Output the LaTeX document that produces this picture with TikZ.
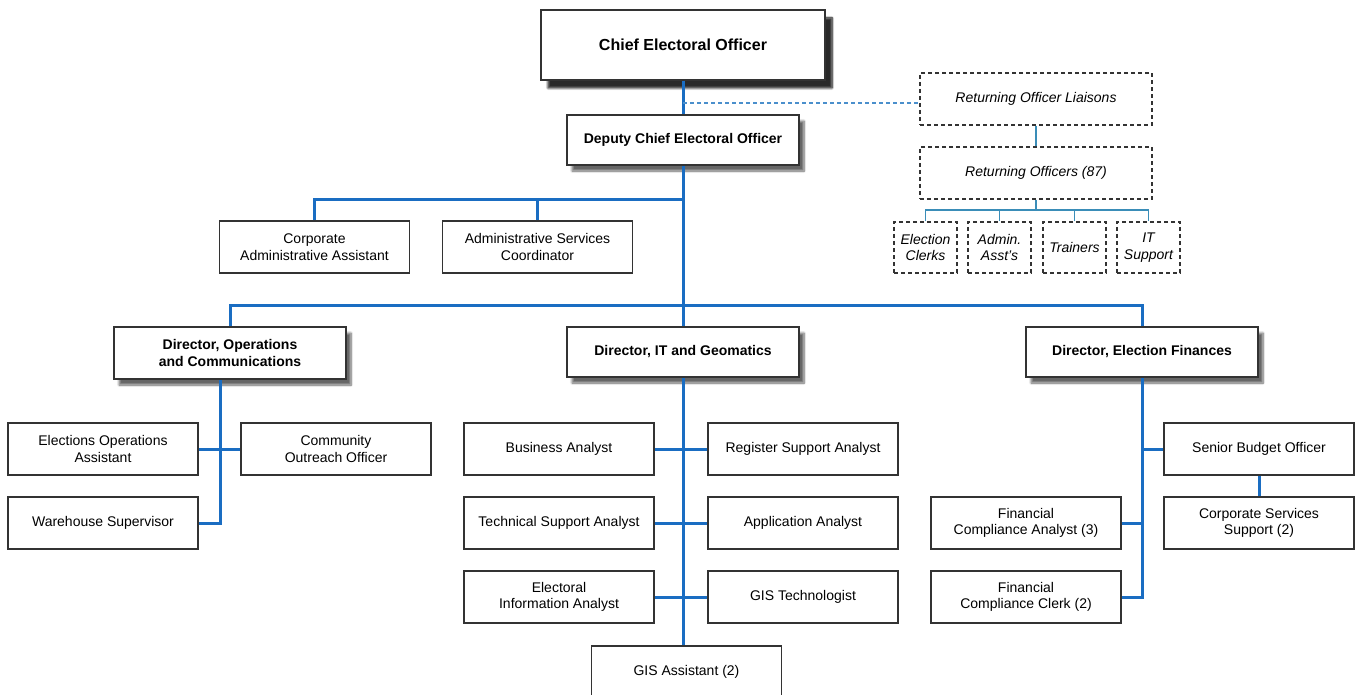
\documentclass[tikz,border=0pt]{standalone}
\usepackage{fontspec}
\setmainfont{Liberation Sans}
\usetikzlibrary{shadows.blur}

\definecolor{orgblue}{HTML}{1A6DC2}
\definecolor{dashblue}{HTML}{4A8FCC}
\definecolor{roblue}{HTML}{3A8DB8}
\definecolor{boxline}{HTML}{333333}

\tikzset{
	post/.style={draw=boxline, line width=1.1pt, fill=white, align=center, inner sep=0pt,
		minimum width=190pt, minimum height=52pt, font=\fontsize{14}{16.5}\selectfont},
	head/.style={post, line width=1.5pt, minimum width=232pt, minimum height=50pt,
		font=\fontsize{14}{16.5}\selectfont\bfseries,
		blur shadow={shadow xshift=5pt, shadow yshift=-6pt, shadow blur steps=8, shadow opacity=60}},
	ropost/.style={post, dash pattern=on 4pt off 3pt, minimum width=232pt,
		font=\fontsize{14}{16.5}\selectfont\itshape},
	roteam/.style={ropost, minimum width=63pt, minimum height=51pt},
	link/.style={draw=orgblue, line width=3pt},
	rolink/.style={draw=roblue, line width=1.7pt},
	liaisonlink/.style={draw=dashblue, line width=1.2pt, dash pattern=on 4pt off 3pt}
}

\newcommand{\pairlink}[2]{
	\draw[link] (#1.east) -- (#2.west);
}

\begin{document}
\begin{tikzpicture}[x=1pt, y=-1pt]
\useasboundingbox (0,0) rectangle (1357,695);

\pgfmathsetmacro{\colL}{559}
\pgfmathsetmacro{\colR}{803}
\pgfmathsetmacro{\rowA}{449}
\pgfmathsetmacro{\rowB}{523}
\pgfmathsetmacro{\rowC}{597}

\node[head, minimum width=284pt, minimum height=70pt, font=\fontsize{16}{19}\selectfont\bfseries,
	blur shadow={shadow xshift=7pt, shadow yshift=-8pt, shadow blur steps=8, shadow opacity=60}]
	(ceo) at (683,45) {Chief Electoral Officer};
\node[head] (deputy) at (683,140) {Deputy Chief Electoral Officer};

\node[ropost] (liaisons) at (1036,99) {Returning Officer Liaisons};
\node[ropost] (returning) at (1036,173) {Returning Officers (87)};
\node[roteam] (clerks) at (925.5,247.5) {Election\\Clerks};
\node[roteam] (adminasst) at (999.5,247.5) {Admin.\\Asst's};
\node[roteam] (trainers) at (1074.5,247.5) {Trainers};
\node[roteam] (itsupport) at (1148.5,247.5) {IT\\Support};

\node[post] (corpadmin) at (314.5,247) {Corporate\\Administrative Assistant};
\node[post] (adminsvc) at (537.5,247) {Administrative Services\\Coordinator};

\node[head, minimum height=52pt] (dirops) at (230,353) {Director, Operations\\and Communications};
\node[head] (dirit) at (683,352) {Director, IT and Geomatics};
\node[head] (dirfin) at (1142,352) {Director, Election Finances};

\node[post] (elecops) at (103,\rowA) {Elections Operations\\Assistant};
\node[post] (outreach) at (336,\rowA) {Community\\Outreach Officer};
\node[post] (warehouse) at (103,\rowB) {Warehouse Supervisor};

\node[post] (business) at (\colL,\rowA) {Business Analyst};
\node[post] (register) at (\colR,\rowA) {Register Support Analyst};
\node[post] (techsupport) at (\colL,\rowB) {Technical Support Analyst};
\node[post] (application) at (\colR,\rowB) {Application Analyst};
\node[post] (elecinfo) at (\colL,\rowC) {Electoral\\Information Analyst};
\node[post] (gistech) at (\colR,\rowC) {GIS Technologist};
\node[post] (gisasst) at (686.5,672) {GIS Assistant (2)};

\node[post] (budget) at (1259,\rowA) {Senior Budget Officer};
\node[post] (corpsvc) at (1259,\rowB) {Corporate Services\\Support (2)};
\node[post] (fcanalyst) at (1026,\rowB) {Financial\\Compliance Analyst (3)};
\node[post] (fcclerk) at (1026,\rowC) {Financial\\Compliance Clerk (2)};

\draw[link] (ceo) -- (deputy);
\draw[link] (deputy) -- (dirit);

\coordinate (adminbus) at (683,200);
\draw[link] (corpadmin.north) |- (adminbus);
\draw[link] (adminsvc.north) -- (adminsvc.north |- adminbus);

\coordinate (dirbus) at (683,305);
\draw[link] (dirops.north) |- (dirbus) -| (dirfin.north);

\draw[link] ([xshift=-10pt]dirops.south) |- (warehouse.east);
\pairlink{elecops}{outreach}

\draw[link] (dirit.south) -- (dirit.south |- gisasst.north);
\pairlink{business}{register}
\pairlink{techsupport}{application}
\pairlink{elecinfo}{gistech}

\draw[link] (dirfin.south) |- (fcclerk.east);
\draw[link] (fcanalyst.east) -- (fcanalyst.east -| dirfin.south);
\draw[link] (budget.west) -- (budget.west -| dirfin.south);
\draw[link] (budget) -- (corpsvc);

\coordinate (liaisonend) at ([yshift=-4pt]liaisons.west);
\draw[liaisonlink] (ceo.south |- liaisonend) -- (liaisonend);
\draw[rolink] (liaisons) -- (returning);
\coordinate (robus) at (1036,210);
\draw[rolink] (returning) -- (robus);
\draw[rolink] (clerks.north) |- (robus) -| (itsupport.north);
\foreach \team in {adminasst, trainers}
	\draw[rolink] (\team.north) -- (\team.north |- robus);
\end{tikzpicture}
\end{document}
